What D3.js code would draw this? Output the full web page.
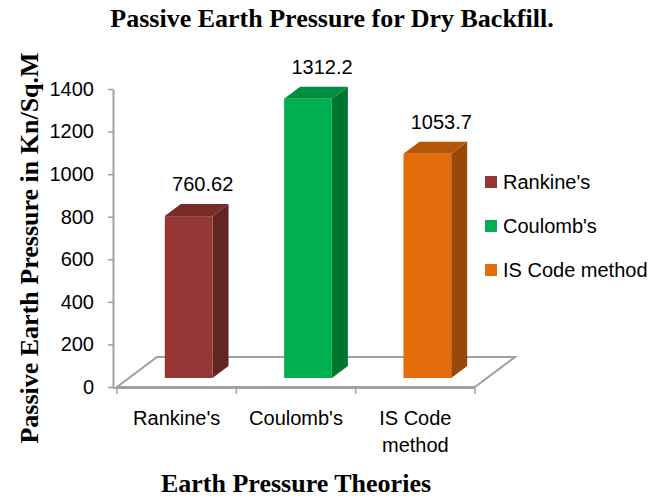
<!DOCTYPE html>
<html>
<head>
<meta charset="utf-8">
<script src="https://cdn.jsdelivr.net/npm/d3@7"></script>
<style>
  body { margin: 0; background: #fff; }
  .sans { font-family: "Liberation Sans", Arial, sans-serif; font-size: 20px; fill: #000; }
  .serif { font-family: "Liberation Serif", "Times New Roman", serif; font-weight: bold; font-size: 26px; fill: #000; }
</style>
</head>
<body>
<div id="chart"></div>
<script>
// Chart data
const categories = ["Rankine's", "Coulomb's", "IS Code method"];
const values = [760.62, 1312.2, 1053.7];
const valueLabels = ["760.62", "1312.2", "1053.7"];
const yTicks = [0, 200, 400, 600, 800, 1000, 1200, 1400];

// Colours for each bar: front face, side face, top face
const frontColors = ["#953735", "#00b050", "#e46c0a"];
const sideColors = ["#632523", "#00752f", "#984807"];
const topColors = ["#772c2a", "#008d40", "#b65708"];

const width = 656, height = 500;
// Depth of the 3D floor in pixels (x, y); bars sit between 30% and 70% of it
const depth = [40, -30];
const barFront = 0.3, barBack = 0.7;

function shift(p, f) { return [p[0] + depth[0] * f, p[1] + depth[1] * f]; }

function wrap(text, maxWidth) {
    text.each(function () {
        const t = d3.select(this);
        const words = t.text().split(/\s+/);
        const y = t.attr("y"), dy = parseFloat(t.attr("dy"));
        t.text(null);
        let line = [];
        let lineNo = 0;
        let tspan = t.append("tspan").attr("x", 0).attr("y", y).attr("dy", dy + "em");
        words.forEach((w) => {
            line.push(w);
            tspan.text(line.join(" "));
            if (tspan.node().getComputedTextLength() > maxWidth && line.length > 1) {
                line.pop();
                tspan.text(line.join(" "));
                line = [w];
                lineNo++;
                tspan = t.append("tspan").attr("x", 0).attr("y", y)
                    .attr("dy", (lineNo * 1.35 + dy) + "em").text(w);
            }
        });
    });
}

function drawChart() {
    const svg = d3.select("#chart").append("svg")
        .attr("width", width)
        .attr("height", height);

    const x = d3.scaleBand().domain(categories).range([117, 475]);
    const y = d3.scaleLinear().domain([0, 1400]).range([387, 89]);
    const gray = "#a0a0a0";

    // --------------------------------------
    // Floor of the 3D plot
    const x0 = x.range()[0], x1 = x.range()[1], y0 = y(0);
    const floor = [[x0, y0], [x1, y0], shift([x1, y0], 1), shift([x0, y0], 1)];
    svg.append("polygon")
        .attr("points", floor.map(p => p.join(",")).join(" "))
        .attr("fill", "none")
        .attr("stroke", gray)
        .attr("stroke-width", 2);

    // --------------------------------------
    // Y axis
    const yAxis = svg.append("g")
        .attr("class", "sans")
        .attr("transform", "translate(113,0)")
        .call(d3.axisLeft(y).tickValues(yTicks).tickFormat(d3.format("d"))
            .tickSize(5).tickSizeOuter(0).tickPadding(14));
    yAxis.select(".domain").attr("stroke", gray).attr("stroke-width", 2);
    yAxis.selectAll(".tick line").attr("stroke", gray).attr("stroke-width", 1.5);
    yAxis.selectAll("text").attr("font-family", null).attr("font-size", null);

    // --------------------------------------
    // X axis: labels at band centres, ticks at band edges
    const xAxis = svg.append("g")
        .attr("class", "sans")
        .attr("transform", "translate(0," + (y0 + 1) + ")")
        .call(d3.axisBottom(x).tickSize(0).tickPadding(23));
    xAxis.select(".domain").remove();
    xAxis.selectAll("text").attr("font-family", null).attr("font-size", null)
        .call(wrap, x.bandwidth() * 0.9);
    xAxis.append("line")
        .attr("x1", 113).attr("x2", x1)
        .attr("stroke", gray).attr("stroke-width", 2);
    const edges = categories.map(c => x(c)).concat([x1]);
    xAxis.selectAll(".edge")
        .data(edges)
        .join("line")
        .attr("class", "edge")
        .attr("x1", d => d).attr("x2", d => d)
        .attr("y1", 0).attr("y2", 6)
        .attr("stroke", gray).attr("stroke-width", 1.5);

    // --------------------------------------
    // 3D bars
    const bw = x.bandwidth() * 0.4;
    const bars = svg.append("g")
        .selectAll("g")
        .data(categories)
        .join("g");
    bars.each(function (c, i) {
        const g = d3.select(this);
        const bx0 = x(c) + (x.bandwidth() - bw) / 2, bx1 = bx0 + bw;
        const yt = y(values[i]);
        const ft = shift([bx0, yt], barFront);
        const fb = shift([bx1, y0], barFront);
        const pts = (arr) => arr.map(p => p.join(",")).join(" ");
        g.append("polygon")
            .attr("points", pts([shift([bx1, yt], barFront), shift([bx1, yt], barBack),
                shift([bx1, y0], barBack), shift([bx1, y0], barFront)]))
            .attr("fill", sideColors[i]);
        g.append("polygon")
            .attr("points", pts([shift([bx0, yt], barFront), shift([bx1, yt], barFront),
                shift([bx1, yt], barBack), shift([bx0, yt], barBack)]))
            .attr("fill", topColors[i]);
        g.append("rect")
            .attr("x", ft[0]).attr("y", ft[1])
            .attr("width", bw).attr("height", fb[1] - ft[1])
            .attr("fill", frontColors[i]);
        // Value label
        g.append("text")
            .attr("class", "sans")
            .attr("x", ft[0] + bw / 2 + 14)
            .attr("y", ft[1] - 25)
            .attr("text-anchor", "middle")
            .text(valueLabels[i]);
    });

    // --------------------------------------
    // Legend
    const legend = svg.append("g")
        .selectAll("g")
        .data(categories)
        .join("g")
        .attr("transform", (d, i) => "translate(485," + (182 + i * 44) + ")");
    legend.append("rect")
        .attr("x", 0).attr("y", -6)
        .attr("width", 12).attr("height", 12)
        .attr("fill", (d, i) => frontColors[i]);
    legend.append("text")
        .attr("class", "sans")
        .attr("x", 18).attr("dy", "0.35em")
        .text(d => d);

    // --------------------------------------
    // Titles
    svg.append("text")
        .attr("class", "serif")
        .attr("x", 332).attr("y", 27)
        .attr("text-anchor", "middle")
        .text("Passive Earth Pressure for Dry Backfill.");
    svg.append("text")
        .attr("class", "serif")
        .attr("x", 296).attr("y", 492)
        .attr("text-anchor", "middle")
        .text("Earth Pressure Theories");
    svg.append("text")
        .attr("class", "serif")
        .attr("transform", "translate(38,248) rotate(-90)")
        .attr("text-anchor", "middle")
        .text("Passive Earth Pressure in Kn/Sq.M");
}

function whenDocumentLoaded(action) {
    if (document.readyState === "loading") {
        document.addEventListener("DOMContentLoaded", action);
    } else {
        action();
    }
}
whenDocumentLoaded(drawChart);
</script>
</body>
</html>
